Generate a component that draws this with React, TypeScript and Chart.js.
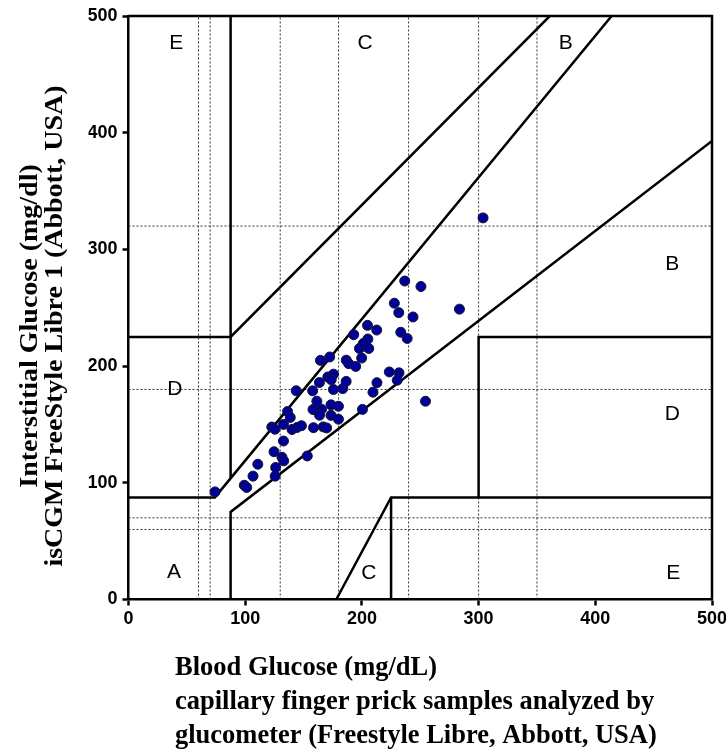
import React, { useEffect, useRef } from 'react';
import { Chart, registerables } from 'chart.js';

Chart.register(...registerables);

// Paired readings: capillary blood glucose (x) vs interstitial isCGM glucose (y), mg/dL
const bloodGlucose = [
  74.1, 99.2, 101.3, 106.7, 110.8, 125.7, 126.1, 124.7, 131.5, 133.0,
  132.8, 153.2, 122.8, 125.5, 136.3, 138.6, 132.8, 140.1, 144.4, 148.2,
  143.7, 158.5, 166.9, 169.8, 193.0, 205.1, 197.9, 201.2, 205.9, 199.8,
  164.5, 172.4, 186.6, 188.7, 194.7, 170.8, 175.7, 173.7, 163.6, 175.6,
  183.6, 186.5, 157.8, 161.4, 158.1, 165.4, 163.7, 173.5, 179.9, 173.5,
  179.9, 200.5, 212.9, 209.5, 236.7, 250.6, 227.8, 231.6, 243.8, 283.6,
  204.8, 212.7, 233.3, 238.8, 223.5, 231.8, 230.3, 254.5, 303.8,
];
const interstitialGlucose = [
  92.2, 97.9, 96.0, 105.7, 115.9, 105.7, 113.1, 126.6, 121.9, 118.8,
  135.8, 123.0, 147.8, 145.9, 161.1, 156.0, 150.0, 145.7, 147.4, 148.9,
  178.9, 147.2, 147.9, 147.0, 226.9, 223.2, 215.1, 219.4, 215.1, 206.9,
  204.9, 207.8, 205.1, 202.1, 199.7, 190.7, 193.1, 188.3, 185.9, 179.9,
  180.7, 186.9, 178.8, 169.9, 162.8, 163.1, 157.9, 166.8, 165.6, 157.8,
  154.5, 162.9, 185.8, 177.6, 272.9, 268.2, 253.9, 245.8, 242.1, 248.8,
  234.9, 230.9, 229.0, 223.7, 195.0, 194.2, 187.9, 169.9, 327.0,
];

const axisTicks = [0, 100, 200, 300, 400, 500];

// dotted reference lines
const dottedX = [60, 70, 130, 180, 240, 300, 350];
const dottedY = [60, 70, 180, 320];

// Clarke error grid boundaries (polylines)
const upperAX = [0, 74, 414];
const upperAY = [87.5, 87.5, 500];
const lowerAX = [87.5, 87.5, 500];
const lowerAY = [0, 75, 393];
const upperCX = [0, 87.5, 361];
const upperCY = [225, 225, 500];
const leftEX = [87.5, 87.5];
const leftEY = [104, 500];
const lowerCX = [178, 225, 500];
const lowerCY = [0, 87.5, 87.5];
const lowerCVertX = [225, 225];
const lowerCVertY = [0, 87.5];
const rightDX = [300, 300, 500];
const rightDY = [87.5, 225, 225];

const zoneLines = [
  [upperAX, upperAY],
  [lowerAX, lowerAY],
  [upperCX, upperCY],
  [leftEX, leftEY],
  [lowerCX, lowerCY],
  [lowerCVertX, lowerCVertY],
  [rightDX, rightDY],
];

// zone letters
const zoneLabels = ['E', 'C', 'B', 'B', 'D', 'D', 'A', 'C', 'E'];
const zoneLabelX = [41, 202.7, 374.6, 466, 39.8, 466, 39.0, 206, 466.8];
const zoneLabelY = [476.4, 476.4, 476.4, 287.4, 180, 158.8, 23.3, 22.8, 22.8];

const xTitleLines = [
  'Blood Glucose (mg/dL)',
  'capillary finger prick samples analyzed by',
  'glucometer (Freestyle Libre, Abbott, USA)',
];
const yTitleLines = [
  'Interstitial Glucose (mg/dl)',
  'isCGM FreeStyle Libre 1 (Abbott, USA)',
];

const SANS = '"Liberation Sans", Arial, sans-serif';
const SERIF = '"Liberation Serif", "Times New Roman", serif';

const textPlugin = {
  id: 'clarkeText',
  afterDraw(chart: any) {
    const { ctx, chartArea, scales } = chart;
    const xs = scales.x;
    const ys = scales.y;
    ctx.save();
    // frame top/right
    ctx.strokeStyle = '#000';
    ctx.lineWidth = 2.5;
    ctx.beginPath();
    ctx.moveTo(chartArea.left, chartArea.top);
    ctx.lineTo(chartArea.right, chartArea.top);
    ctx.lineTo(chartArea.right, chartArea.bottom);
    ctx.stroke();

    ctx.fillStyle = '#000';
    ctx.font = `21px ${SANS}`;
    ctx.textAlign = 'center';
    ctx.textBaseline = 'middle';
    zoneLabels.forEach((t, i) => {
      ctx.fillText(t, xs.getPixelForValue(zoneLabelX[i]), ys.getPixelForValue(zoneLabelY[i]));
    });

    ctx.font = `bold 26.5px ${SERIF}`;
    ctx.textAlign = 'left';
    ctx.textBaseline = 'alphabetic';
    xTitleLines.forEach((t, i) => ctx.fillText(t, 175, 675 + i * 34));

    ctx.font = `bold 28px ${SERIF}`;
    ctx.textAlign = 'center';
    ctx.textBaseline = 'middle';
    const yCenters = [30, 55];
    yTitleLines.forEach((t, i) => {
      ctx.save();
      ctx.translate(yCenters[i], 326);
      ctx.rotate(-Math.PI / 2);
      ctx.scale(1, 0.9);
      ctx.fillText(t, 0, 0);
      ctx.restore();
    });
    ctx.restore();
  },
};

export default function App() {
  const ref = useRef<HTMLCanvasElement | null>(null);

  useEffect(() => {
    document.body.style.margin = '0';
    const canvas = ref.current;
    if (!canvas) return;

    const datasets: any[] = [];
    datasets.push({
      label: 'Readings',
      data: bloodGlucose.map((v, i) => ({ x: v, y: interstitialGlucose[i] })),
      backgroundColor: '#000099',
      borderColor: '#15152a',
      borderWidth: 1,
      pointRadius: 5,
      showLine: false,
      order: 0,
    });
    zoneLines.forEach(([xs, ys], k) => {
      datasets.push({
        label: 'zone' + k,
        data: xs.map((v, i) => ({ x: v, y: ys[i] })),
        showLine: true,
        borderColor: '#000',
        borderWidth: 2.5,
        pointRadius: 0,
        fill: false,
        order: 1,
      });
    });
    dottedX.forEach((v) => {
      datasets.push({
        label: 'dx' + v,
        data: [{ x: v, y: 0 }, { x: v, y: 500 }],
        showLine: true,
        borderColor: '#333',
        borderWidth: 1,
        borderDash: [2, 2],
        pointRadius: 0,
        order: 2,
      });
    });
    dottedY.forEach((v) => {
      datasets.push({
        label: 'dy' + v,
        data: [{ x: 0, y: v }, { x: 500, y: v }],
        showLine: true,
        borderColor: '#333',
        borderWidth: 1,
        borderDash: [2, 2],
        pointRadius: 0,
        order: 2,
      });
    });

    const tickFont = { family: SANS, size: 18, weight: 'bold' as const };

    const chart = new Chart(canvas, {
      type: 'scatter',
      data: { datasets },
      options: {
        responsive: false,
        animation: false,
        devicePixelRatio: 1,
        layout: { padding: { left: 88.5, right: 14, top: 16, bottom: 119.5 } },
        plugins: { legend: { display: false }, tooltip: { enabled: false } },
        scales: {
          x: {
            type: 'linear',
            min: 0,
            max: 500,
            afterBuildTicks: (s: any) => {
              s.ticks = axisTicks.map((v) => ({ value: v }));
            },
            afterFit: (s: any) => {
              s.height = 30;
              s.paddingLeft = 0;
              s.paddingRight = 0;
            },
            ticks: { color: '#000', font: tickFont, padding: 3, maxRotation: 0 },
            grid: { drawOnChartArea: false, drawTicks: true, tickLength: 6, tickColor: '#000', tickWidth: 2.5 },
            border: { display: true, color: '#000', width: 2.5 },
          },
          y: {
            type: 'linear',
            min: 0,
            max: 500,
            afterBuildTicks: (s: any) => {
              s.ticks = axisTicks.map((v) => ({ value: v }));
            },
            afterFit: (s: any) => {
              s.width = 40;
              s.paddingTop = 0;
              s.paddingBottom = 0;
            },
            ticks: { color: '#000', font: tickFont, padding: 5 },
            grid: { drawOnChartArea: false, drawTicks: true, tickLength: 6, tickColor: '#000', tickWidth: 2.5 },
            border: { display: true, color: '#000', width: 2.5 },
          },
        },
      },
      plugins: [textPlugin],
    });

    return () => chart.destroy();
  }, []);

  return (
    <canvas ref={ref} width={726} height={749} style={{ display: 'block', width: 726, height: 749 }} />
  );
}
